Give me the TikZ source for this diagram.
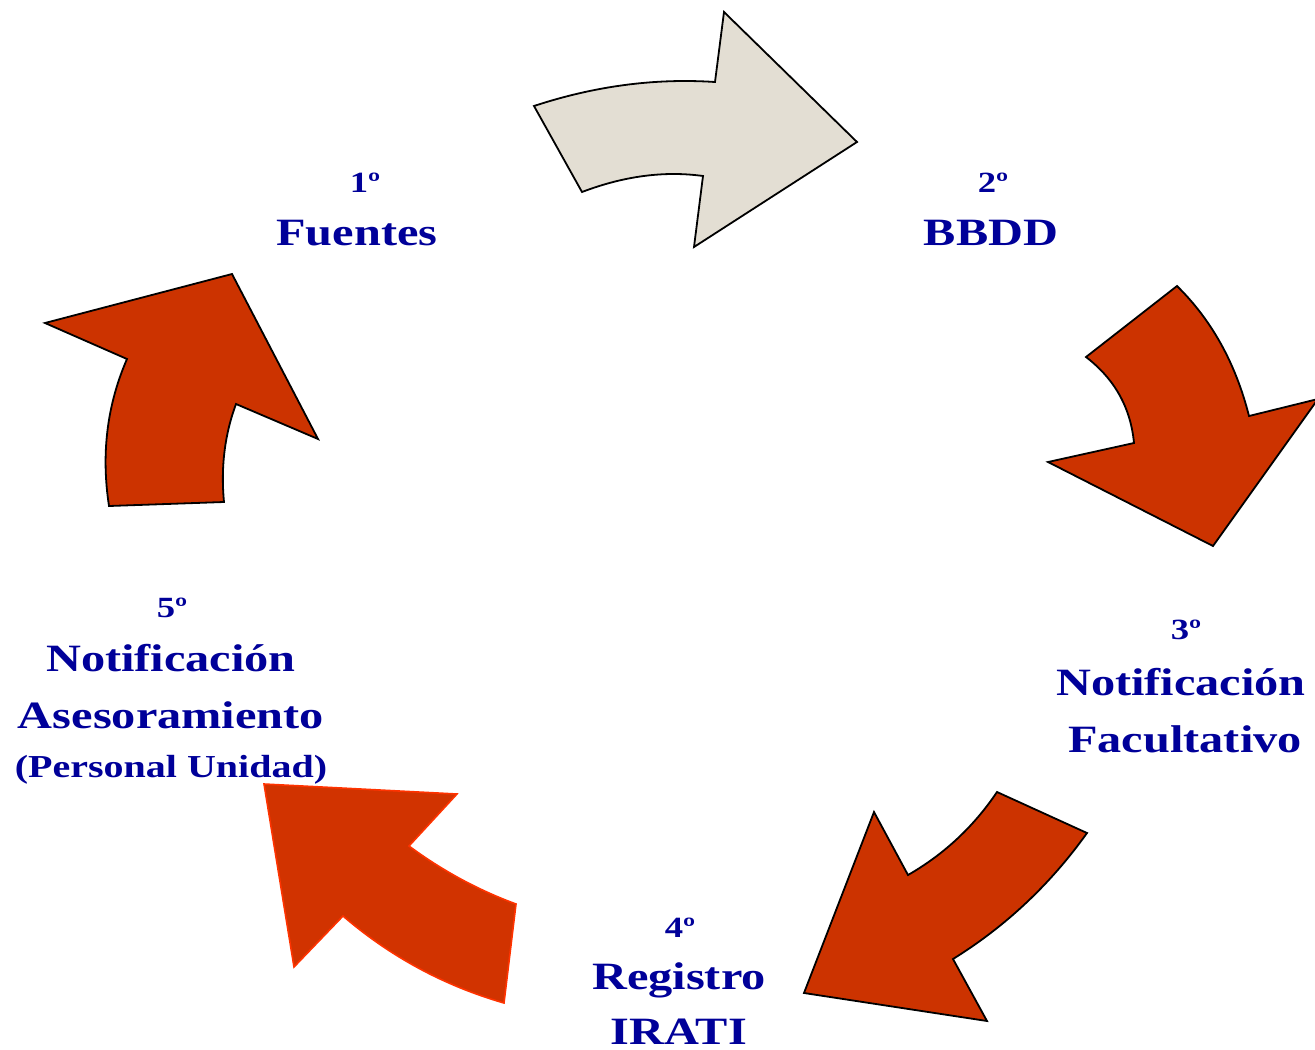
\documentclass[tikz,border=0pt]{standalone}
\usepackage{fontspec}
\usetikzlibrary{calc}
\setmainfont{Liberation Serif}[FakeStretch=1.25]
\definecolor{labblue}{RGB}{0,0,153}
\definecolor{arrred}{RGB}{204,51,0}
\definecolor{arrred2}{RGB}{209,51,0}
\definecolor{arrline2}{RGB}{255,51,0}
\definecolor{arrgray}{RGB}{227,222,211}
% quadratic curve helper: \qc{p0}{c}{p1}
\newcommand{\qc}[3]{.. controls ($(#1)!0.6667!(#2)$) and ($(#3)!0.6667!(#2)$) .. (#3)}
\begin{document}
\begin{tikzpicture}[x=0.75pt,y=-0.75pt,
  ordl/.style={font=\bfseries\fontsize{22}{26}\selectfont,text=labblue,anchor=base,inner sep=0pt},
  mainl/.style={font=\bfseries\fontsize{29}{34}\selectfont,text=labblue,anchor=base,inner sep=0pt},
  perl/.style={font=\bfseries\fontsize{24}{28}\selectfont,text=labblue,anchor=base,inner sep=0pt},
  grayarrow/.style={fill=arrgray,draw=black,line width=1.35pt,line join=miter},
  redarrow/.style={fill=arrred,draw=black,line width=1.35pt,line join=miter},
  redarrowb/.style={fill=arrred2,draw=arrline2,line width=1.2pt,line join=miter}]
\useasboundingbox (0,0) rectangle (1315,1050);

% arrow 1 (gray, top)
\draw[grayarrow] (534,106) \qc{534,106}{625,76}{715,82} -- (724,12) -- (857,142)
  -- (694,247) -- (703,176) \qc{703,176}{645,168}{582,192} -- cycle;
% arrow 2 (top right)
\draw[redarrow] (1177,286) \qc{1177,286}{1229,337}{1249,416} -- (1318,399) -- (1213,546)
  -- (1048,462) -- (1134,443) \qc{1134,443}{1129,390}{1086,357} -- cycle;
% arrow 3 (bottom right)
\draw[redarrow] (997,792) -- (1087,833) \qc{1087,833}{1032,910}{953,959} -- (987,1021)
  -- (804,993) -- (874,812) -- (908,875) \qc{908,875}{962,844}{997,792} -- cycle;
% arrow 4 (bottom left)
\draw[redarrowb] (264,784) -- (457,794) -- (409,846) \qc{409,846}{459,883}{516,904}
  -- (504,1003) \qc{504,1003}{414,977}{343,916} -- (294,967) -- cycle;
% arrow 5 (left)
\draw[redarrow] (232,274) -- (318,439) -- (236,404) \qc{236,404}{219,450}{224,502}
  -- (109,506) \qc{109,506}{97,428}{127,359} -- (45,323) -- cycle;

% labels
\node[ordl] (o1) at (365,192) {1º};
\node[mainl] (m1) at (357,245) {Fuentes};
\node[ordl] (o2) at (993,192) {2º};
\node[mainl] (m2) at (991,245) {BBDD};
\node[ordl] (o3) at (1186,639) {3º};
\node[mainl] (m3a) at (1181,695) {Notificación};
\node[mainl] (m3b) at (1185,752) {Facultativo};
\node[ordl] (o4) at (680,937) {4º};
\node[mainl] (m4a) at (679,989) {Registro};
\node[mainl] (m4b) at (679,1044) {IRATI};
\node[ordl] (o5) at (172,617) {5º};
\node[mainl] (m5a) at (171,671) {Notificación};
\node[mainl] (m5b) at (171,728) {Asesoramiento};
\node[perl] (m5c) at (171,777) {(Personal Unidad)};
\end{tikzpicture}
\end{document}
